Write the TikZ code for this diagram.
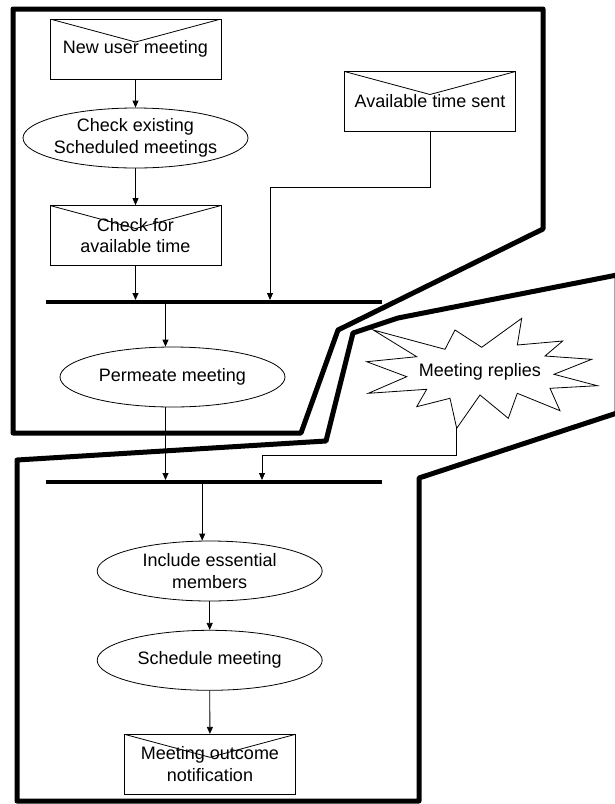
\documentclass[tikz,border=0pt]{standalone}
\usepackage{fontspec}
\setmainfont{Liberation Sans}
\usepackage{tikz}
\usetikzlibrary{shapes.geometric, arrows.meta}

\begin{document}
\begin{tikzpicture}[x=1pt, y=-1pt,
    every node/.style={font=\fontsize{18}{21.6}\selectfont, align=center},
    msg/.style={draw, line width=0.8pt, minimum width=171pt, minimum height=60pt, inner sep=0pt,
        path picture={\draw[line width=0.8pt] (path picture bounding box.north west)
            -- ([yshift=-23pt]path picture bounding box.north) -- (path picture bounding box.north east);}},
    act/.style={draw, ellipse, line width=0.8pt, minimum width=225pt, minimum height=60pt,
        inner xsep=-5pt, inner ysep=0pt},
    arr/.style={-{Triangle[length=7pt,width=6pt]}, line width=0.8pt},
    bar/.style={line width=4pt},
    lane/.style={line width=5pt, line join=round}]
    \useasboundingbox (0,0) rectangle (615,804);

    \draw[lane] (13,9) -- (543,9) -- (543,229) -- (338,330) -- (301,433) -- (13,433) -- cycle;  % upper lane
    \draw[lane] (617,275) -- (398,318) -- (353,333) -- (326,441) -- (17,460) -- (17,801)
        -- (419,801) -- (419,478) -- (617,413) -- cycle;  % lower lane

    \node[msg] (newmtg) at (135.5,49) {New user meeting};
    \node[act] (checksched) at (135.5,138) {Check existing\\Scheduled meetings};
    \node[msg] (checktime) at (135.5,235.5) {Check for\\available time};
    \node[msg] (timesent) at (430,101.5) {Available time sent};

    \coordinate (barAl) at (46,302);
    \coordinate (barAr) at (382,302);
    \coordinate (joinA) at (270,300);
    \draw[bar] (barAl) -- (barAr);

    \node[act] (permeate) at (172.5,377) {Permeate meeting};

    % star of the replies
    \draw[line width=0.8pt] (373.3,330) -- (445,349.3) -- (455,330) -- (481.7,347.3) -- (521.7,318.3)
        -- (517.3,345) -- (562.7,341) -- (545,356) -- (591.7,359.3) -- (554,374.3) -- (597.3,385.7)
        -- (550,388.3) -- (560,410.7) -- (517.3,393.3) -- (508.3,418.3) -- (480,395) -- (456.7,428.3)
        -- (450,398.3) -- (416.7,406.7) -- (426.7,389.3) -- (368.3,393.3) -- (406.7,376.7)
        -- (366.7,361.7) -- (416.7,356.7) -- cycle;
    \node (replies) at (480,372) {Meeting replies};
    \coordinate (startip) at (456.7,428.3);

    \coordinate (barBl) at (46,482);
    \coordinate (barBr) at (382,482);
    \coordinate (joinB) at (262,480);
    \draw[bar] (barBl) -- (barBr);

    \node[act] (include) at (209.7,571) {Include essential\\members};
    \node[act] (schedule) at (209.7,660.3) {Schedule meeting};
    \node[msg] (outcome) at (210,764.3) {Meeting outcome\\notification};

    \draw[arr] (newmtg) -- (checksched);
    \draw[arr] (checksched) -- (checktime);
    \draw[arr] (checktime) -- ([yshift=2pt]checktime |- barAl);
    \draw[arr] (timesent) -- ++(0,85.5) -| (joinA);
    \draw[arr] ([xshift=-7pt]permeate.north |- barAl) -- ([xshift=-7pt]permeate.north);
    \draw[arr] ([xshift=-7pt]permeate.south) -- ([xshift=-7pt,yshift=2pt]permeate.south |- barBl);
    \draw[arr] (startip) -- ++(0,26.7) -| (joinB);
    \draw[arr] ([xshift=-7.5pt]include.north |- barBl) -- ([xshift=-7.5pt]include.north);
    \draw[arr] (include) -- (schedule);
    \draw[arr] (schedule) -- (outcome);
\end{tikzpicture}
\end{document}
